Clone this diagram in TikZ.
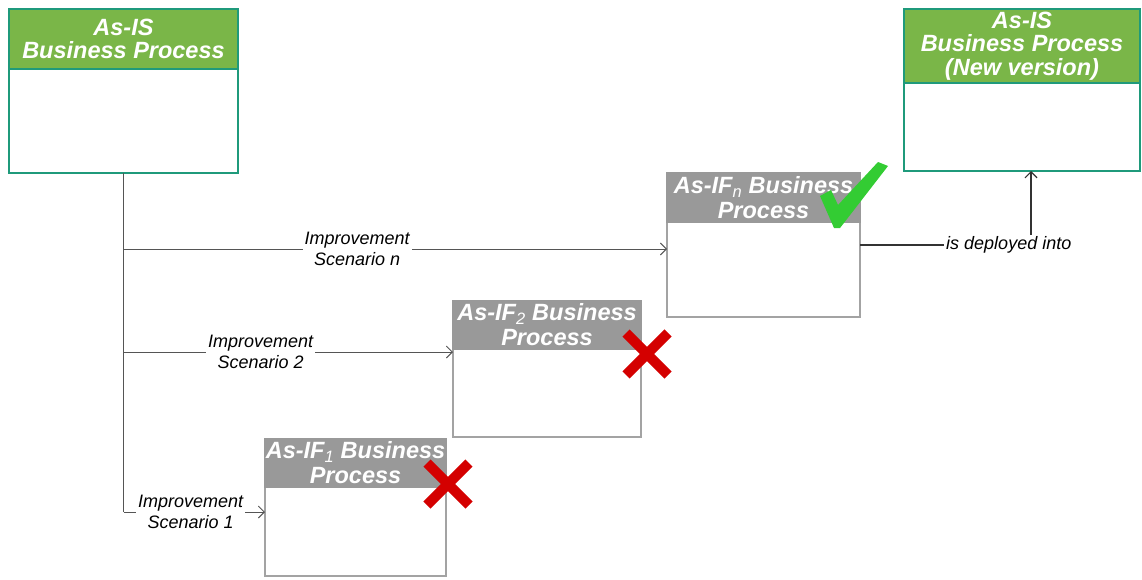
\documentclass[tikz,border=0pt]{standalone}
\usepackage{fontspec}
\setmainfont{Liberation Sans}
\usetikzlibrary{arrows.meta}
\definecolor{asisgreen}{HTML}{7AB648}
\definecolor{asisteal}{HTML}{1F9A7B}
\definecolor{ifgray}{HTML}{999999}
\definecolor{ifedge}{HTML}{A3A3A3}
\definecolor{linkgray}{HTML}{555555}
\definecolor{okgreen}{HTML}{33CC33}
\definecolor{nored}{HTML}{D40000}
\tikzset{
  asisbody/.style={shape=rectangle, draw=asisteal, line width=2.5pt, fill=white, outer sep=0pt},
  asishead/.style={shape=rectangle, draw=asisteal, line width=2.5pt, fill=asisgreen, text=white,
    align=center, inner sep=0pt, outer sep=0pt, anchor=north,
    font=\fontsize{23.5}{23.5}\selectfont\bfseries\itshape},
  ifbody/.style={shape=rectangle, draw=ifedge, line width=2.5pt, fill=white, outer sep=0pt},
  ifhead/.style={shape=rectangle, draw=ifgray, line width=2.5pt, fill=ifgray, text=white,
    align=center, inner sep=0pt, outer sep=0pt, anchor=north,
    font=\fontsize{23.5}{25}\selectfont\bfseries\itshape},
  trunk/.style={draw=linkgray, line width=0.9pt},
  link/.style={draw=linkgray, line width=0.9pt, -{Straight Barb[length=6pt, width=12pt]}},
  deploy/.style={draw=black!80, line width=1.2pt, -{Straight Barb[length=6pt, width=12pt]}},
  lbl/.style={fill=white, align=center, inner sep=2pt, font=\fontsize{18}{20.5}\selectfont\itshape},
}
\newcommand{\ifsub}[1]{\textsubscript{\mdseries #1}}
\begin{document}
\begin{tikzpicture}[x=1pt, y=-1pt]
  \useasboundingbox (0,0) rectangle (1142,579);

  % boxes
  \path (123.5, 91) node [asisbody, minimum width=229, minimum height=164] (asis) {}
        (1022, 90)  node [asisbody, minimum width=236, minimum height=162] (newbp) {}
        (763.5, 245) node [ifbody, minimum width=193, minimum height=144] (ifn) {}
        (547, 369)  node [ifbody, minimum width=188, minimum height=136] (if2) {}
        (355.5, 507.5) node [ifbody, minimum width=181, minimum height=137] (if1) {}
  ;
  \path (asis.north) node [asishead, minimum width=229, minimum height=60] (asish) {As-IS\\Business Process}
        (newbp.north) node [asishead, minimum width=236, minimum height=74] (newbph) {As-IS\\Business Process\\(New version)}
        (ifn.north) node [ifhead, minimum width=193, minimum height=49] (ifnh) {As-IF\ifsub{n} Business\\Process}
        (if2.north) node [ifhead, minimum width=188, minimum height=48] (if2h) {As-IF\ifsub{2} Business\\Process}
        (if1.north) node [ifhead, minimum width=181, minimum height=48] (if1h) {As-IF\ifsub{1} Business\\Process}
  ;

  % connectors
  \coordinate (inn) at ([yshift=-4pt]ifn.west);
  \coordinate (in2) at ([yshift=17pt]if2.west);
  \coordinate (in1) at ([yshift=-4.5pt]if1.west);
  \draw [trunk] (asis.south) -- (asis.south |- in1);
  \draw [link] (asis.south |- inn) -- (inn) node [lbl, pos=0.43] {Improvement\\Scenario n};
  \draw [link] (asis.south |- in2) -- (in2) node [lbl, pos=0.416] {Improvement\\Scenario 2};
  \draw [link] (asis.south |- in1) -- (in1) node [lbl, pos=0.475] {Improvement\\Scenario 1};
  \draw [deploy] (ifn.east) -| ([xshift=9pt]newbp.south) node [lbl, pos=0.435] {is deployed into};

  % marks
  \fill [okgreen] (820,196) -- (831,190) -- (838,205) -- (878,162) -- (888,166) -- (840,228) -- (834,228) -- cycle;
  \draw [nored, line width=10pt] (626,333) -- (668,375) (626,375) -- (668,333);
  \draw [nored, line width=10pt] (427,463) -- (469,505) (427,505) -- (469,463);
\end{tikzpicture}
\end{document}
